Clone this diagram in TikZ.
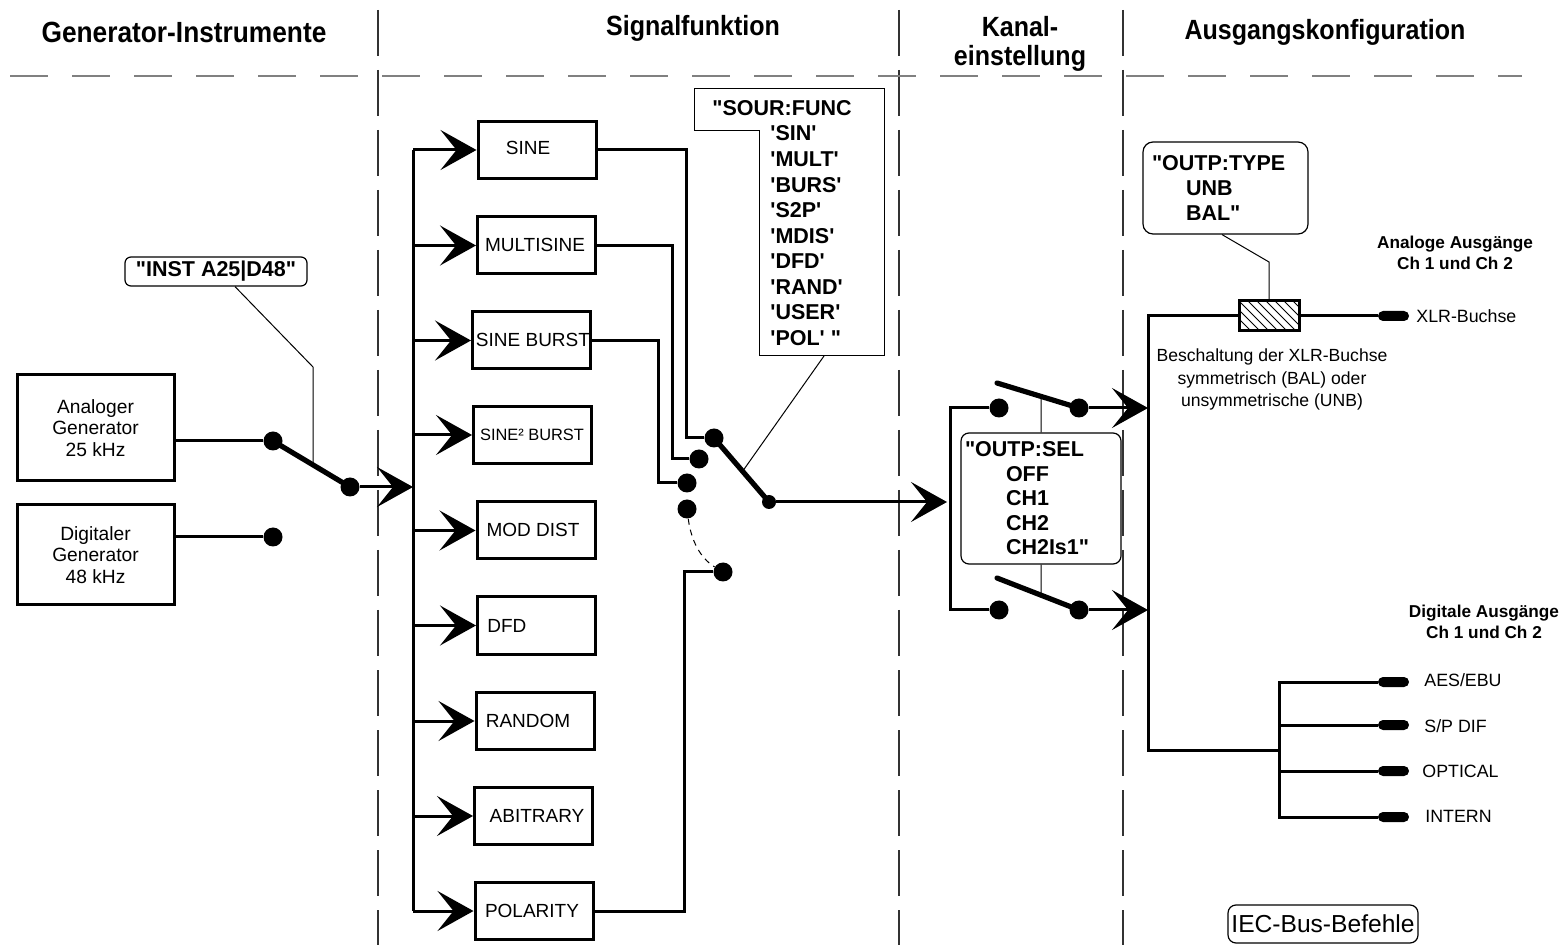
\documentclass[tikz,border=0pt]{standalone}
\usepackage{fontspec}
\setmainfont{Liberation Sans}[Ligatures=TeXOff]
\newfontfamily\headfont{Liberation Sans}[FakeStretch=0.9, Ligatures=TeXOff]
\usetikzlibrary{arrows.meta,calc}
\newcommand\fsz[2]{\fontsize{#1}{#2}\selectfont}
\newcommand\qs{\textquotesingle}
\tikzset{
  head/.style={font=\headfont\bfseries\fsz{13.9}{14.5}, inner sep=0pt, align=center},
  subhead/.style={font=\bfseries\fsz{8.6}{10.5}, inner sep=0pt, align=center},
  sepv/.style={line width=0.7pt, draw=black!80, dash pattern=on 23pt off 7pt},
  seph/.style={line width=1pt, draw=black!50, dash pattern=on 19pt off 12pt},
  gbox/.style={draw, line width=1.5pt, minimum width=78.5pt, minimum height=53pt, align=center, font=\fsz{9.6}{10.75}, inner sep=0pt},
  blk/.style={draw, line width=1.5pt, minimum width=59pt, minimum height=28.5pt, inner sep=0pt},
  lbl/.style={font=\fsz{9.5}{11}, inner sep=0pt},
  conn/.style={line width=1.5pt},
  arr/.style={conn, -{Stealth[length=18pt,width=20pt,inset=8pt]}},
  blade/.style={line width=2.6pt, line cap=round},
  bigdot/.style={circle, fill, inner sep=0pt, minimum size=9.5pt},
  smalldot/.style={circle, fill, inner sep=0pt, minimum size=7pt},
  thinl/.style={line width=0.5pt},
  callout/.style={draw, line width=0.6pt, rounded corners=3pt, font=\bfseries\fsz{10.75}{12.25}, inner sep=0pt},
  plug/.style={fill, rounded corners=2.5pt, minimum width=15.5pt, minimum height=5pt, inner sep=0pt},
  plbl/.style={font=\fsz{8.9}{10}, inner sep=0pt, anchor=west},
}
\begin{document}
\begin{tikzpicture}[x=0.5pt,y=-0.5pt]
\useasboundingbox (0,0) rectangle (1562,945);

% ---------- headings and separators
\node[head, font=\headfont\bfseries\fsz{14.6}{15}] (h1) at (184,32) {Generator-Instrumente};
\node[head] (h2) at (693,28) {Signalfunktion};
\node[head] (h3) at (1020,44) {Kanal-\\einstellung};
\node[head] (h4) at (1325,32) {Ausgangskonfiguration};

\coordinate (s1t) at (378,10);  \coordinate (s1b) at (378,945);
\coordinate (s2t) at (899,10);  \coordinate (s2b) at (899,945);
\coordinate (s3t) at (1123,10); \coordinate (s3b) at (1123,945);
\draw[sepv] (s1t) -- (s1b);
\draw[sepv] (s2t) -- (s2b);
\draw[sepv] (s3t) -- (s3b);
\coordinate (hl) at (10,76); \coordinate (hr) at (1522,76);
\draw[seph] (hl) -- (hr);

% ---------- generator instruments
\node[gbox] (ana) at (95.5,428) {Analoger\\Generator\\25 kHz};
\node[gbox, minimum height=50pt] (dig) at (95.5,555) {Digitaler\\Generator\\48 kHz};
\node[bigdot] (a1) at (273,441) {};
\node[bigdot] (a2) at (350,487) {};
\node[bigdot] (a3) at (273,537) {};
\draw[conn] (ana.east |- a1) -- (a1);
\draw[conn] (dig.east |- a3) -- (a3);
\draw[blade] (a1.center) -- (a2.center);
\coordinate (bus) at (413,0);
\draw[arr] (a2) -- (a2 -| bus);

\node[callout, minimum width=91pt, minimum height=14.5pt] (inst) at (216,271.5) {"INST A25|D48"};
\coordinate (il1) at (313,367);
\coordinate (il2) at (313,464);
\draw[thinl] ($(inst.south)+(19,0)$) -- (il1) -- (il2);

% ---------- signal functions
\node[blk] (f1) at (537,150) {};
\node[blk] (f2) at (536.5,245.5) {};
\node[blk] (f3) at (531.5,340.5) {};
\node[blk] (f4) at (532.5,435) {};
\node[blk] (f5) at (536,530.5) {};
\node[blk] (f6) at (536.5,625.5) {};
\node[blk] (f7) at (535,721) {};
\node[blk] (f8) at (533.5,816) {};
\node[blk] (f9) at (534,911) {};
\node[lbl] (t1) at (528,148) {SINE};
\node[lbl] (t2) at (535,245) {MULTISINE};
\node[lbl] (t3) at (533,340) {SINE BURST};
\node[lbl, font=\fsz{8.2}{10}] (t4) at (532,435) {SINE² BURST};
\node[lbl] (t5) at (533,530) {MOD DIST};
\node[lbl, anchor=west] (t6) at (487,626) {DFD};
\node[lbl] (t7) at (528,721) {RANDOM};
\node[lbl] (t8) at (537,816) {ABITRARY};
\node[lbl] (t9) at (532,911) {POLARITY};

\draw[conn] (bus |- f1.west) -- (bus |- f9.west);
\foreach \n in {f1,f2,f3,f4,f5,f6,f7,f8,f9}
  \draw[arr] (bus |- \n.west) -- (\n.west);

% selector switch
\node[bigdot] (d1) at (714,438) {};
\node[bigdot] (d2) at (699,459) {};
\node[bigdot] (d3) at (687,483) {};
\node[bigdot] (d4) at (687,509) {};
\node[bigdot] (d5) at (723,572) {};
\node[smalldot] (piv) at (769,502) {};
\draw[conn] (f1.east) -- ++(89,0) |- (d1);
\draw[conn] (f2.east) -- ++(75.5,0) |- (d2);
\draw[conn] (f3.east) -- ++(66.5,0) |- (d3);
\draw[conn] (f9.east) -- ++(90,0) |- (d5);
\draw[thinl, dash pattern=on 3pt off 2.5pt] (d4) .. controls (691,540) and (700,558) .. (d5);
\draw[blade] (d1.center) -- (piv.center);
\coordinate (kin) at (947,502);
\draw[arr] (piv) -- (kin);

% SOUR:FUNC callout
\draw[thinl] (694,89) -- (884,89) -- (884,356) -- (759,356) -- (759,131) -- (694,131) -- cycle;
\node[font=\bfseries\fsz{10.75}{12.78}, align=left, inner sep=0pt, anchor=west] (sf) at (712,223)
  {"SOUR:FUNC\\\hspace*{29pt}\qs SIN\qs\\\hspace*{29pt}\qs MULT\qs\\\hspace*{29pt}\qs BURS\qs\\\hspace*{29pt}\qs S2P\qs\\\hspace*{29pt}\qs MDIS\qs\\\hspace*{29pt}\qs DFD\qs\\\hspace*{29pt}\qs RAND\qs\\\hspace*{29pt}\qs USER\qs\\\hspace*{29pt}\qs POL\qs\ "};
\coordinate (sfb) at (824,356);
\draw[thinl] (sfb) -- ($(d1)!0.52!(piv)$);

% ---------- channel setting
\node[bigdot] (ka) at (999,408) {};
\node[bigdot] (kb) at (999,610) {};
\node[bigdot] (kc) at (1079,408) {};
\node[bigdot] (kd) at (1079,610) {};
\draw[conn] (ka) -- ++(-49,0) |- (kb);
\coordinate (kat) at (997,383);
\coordinate (kbt) at (997,578);
\draw[blade] (kat) -- (kc.center);
\draw[blade] (kbt) -- (kd.center);
\coordinate (obus) at (1148,0);
\draw[arr] (kc) -- (kc -| obus);
\draw[arr] (kd) -- (kd -| obus);

\node[callout, rounded corners=4pt, minimum width=80pt, minimum height=65.5pt, text width=76pt, inner xsep=2pt, align=left, font=\bfseries\fsz{10.75}{12.25}] (osel) at (1041,498.5)
  {"OUTP:SEL\\\hspace*{20.5pt}OFF\\\hspace*{20.5pt}CH1\\\hspace*{20.5pt}CH2\\\hspace*{20.5pt}CH2Is1"};
\draw[thinl] (osel.north) -- ($(kat)!0.537!(kc)$);
\draw[thinl] (osel.south) -- ($(kbt)!0.537!(kd)$);

% ---------- output configuration
\node[draw, line width=1.5pt, fill=white, minimum width=30pt, minimum height=15pt, inner sep=0pt] (hatch) at (1269,316) {};
\begin{scope}
  \clip (1239,301) rectangle (1299,331);
  \foreach \i in {-36,-27,...,63}
    \draw[line width=0.5pt] (1239+\i,301) -- (1269+\i,331);
\end{scope}
\node[callout, rounded corners=5pt, minimum width=82.5pt, minimum height=46pt, text width=73.5pt, inner xsep=4.5pt, align=left, font=\bfseries\fsz{10.75}{12.5}] (otype) at (1225.5,188)
  {"OUTP:TYPE\\\hspace*{17pt}UNB\\\hspace*{17pt}BAL"};
\coordinate (tl1) at (1269,262);
\draw[thinl] (hatch.north) -- (tl1) -- ($(otype.south)+(-3.5,0)$);

\node[subhead] (an) at (1455,252.5) {Analoge Ausgänge\\Ch 1 und Ch 2};
\node[font=\fsz{8.8}{11.25}, align=center, inner sep=0pt] (besch) at (1272,379.5)
  {Beschaltung der XLR-Buchse\\symmetrisch (BAL) oder\\unsymmetrische (UNB)};

\coordinate (jb) at (1148,750);
\coordinate (jd) at (1279,750);
\node[plug] (px) at (1393.5,316) {};
\node[plug] (p1) at (1393.5,682) {};
\node[plug] (p2) at (1393.5,725) {};
\node[plug] (p3) at (1393.5,771) {};
\node[plug] (p4) at (1393.5,817) {};
\draw[conn] (hatch.west) -| (jb) -- (jd);
\draw[conn] (hatch.east) -- (px.west);
\draw[conn] (p1.west) -- (p1.west -| jd) -- (p4.west -| jd) -- (p4.west);
\draw[conn] (p2.west) -- (p2.west -| jd);
\draw[conn] (p3.west) -- (p3.west -| jd);

\node[plbl] (lx) at (1416,316) {XLR-Buchse};
\node[plbl] (l1) at (1424,680) {AES/EBU};
\node[plbl] (l2) at (1424,726) {S/P DIF};
\node[plbl] (l3) at (1422,771) {OPTICAL};
\node[plbl] (l4) at (1425,816) {INTERN};
\node[subhead] (dg) at (1484,622) {Digitale Ausgänge\\Ch 1 und Ch 2};

\node[draw, line width=0.6pt, rounded corners=4pt, minimum width=95pt, minimum height=19pt, inner sep=0pt, font=\fsz{12.3}{14}] (iec) at (1323,924) {IEC-Bus-Befehle};
\end{tikzpicture}
\end{document}
